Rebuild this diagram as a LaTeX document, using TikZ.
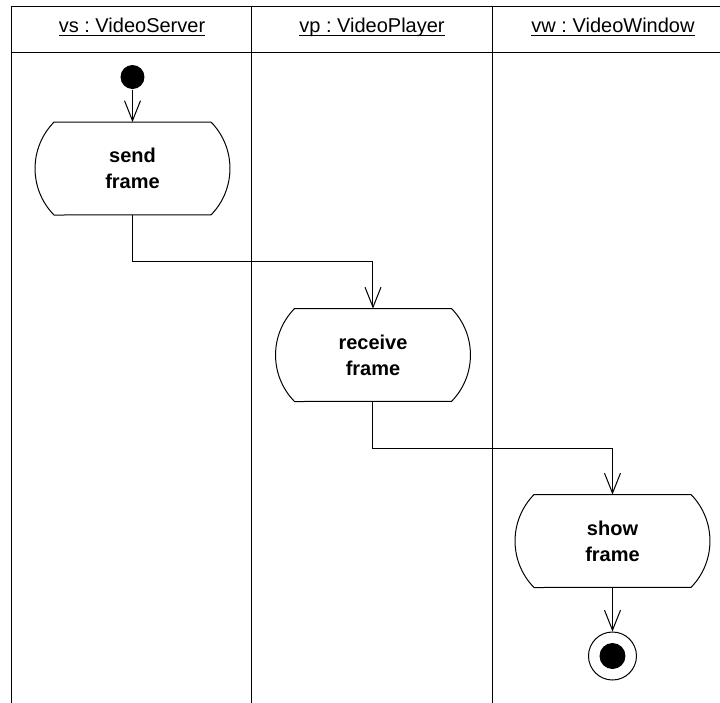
\documentclass[tikz,border=0pt]{standalone}
\usepackage{fontspec}
\setmainfont{Liberation Sans}
\usetikzlibrary{arrows.meta}
\frenchspacing

% underline at a fixed depth, whatever the descenders
\newcommand{\uln}[1]{\underline{\smash{#1}}\vphantom{p}}
% outline of an activity state: flat top and bottom, bulging sides
\newcommand{\actshape}[1]{%
  \draw ([xshift=9pt]#1.north west) -- ([xshift=-9pt]#1.north east)
    arc[start angle=44.4, end angle=-44.4, radius=33.2pt]
    -- ([xshift=9pt]#1.south west)
    arc[start angle=224.4, end angle=135.6, radius=33.2pt] -- cycle;}

\begin{document}
\begin{tikzpicture}[x=0.5pt,y=-0.5pt,line width=0.5pt,
  act/.style={minimum width=96.5pt, minimum height=46.5pt, outer sep=0pt,
    align=center, font={\bfseries\fontsize{10}{13}\selectfont}},
  flow/.style={-{Straight Barb[length=10pt,width=8pt]}},
  lane/.style={font=\fontsize{10}{12}\selectfont}]
\useasboundingbox (0,0) rectangle (720,703);
% swimlanes
\draw (12,6) -- (720,6);
\draw (12,52) -- (720,52);
\draw (12,6) -- (12,703);
\draw (252,6) -- (252,703);
\draw (493,6) -- (493,703);
\node[lane] (hvs) at (132,29) {\uln{vs : VideoServer}};
\node[lane] (hvp) at (372,29) {\uln{vp : VideoPlayer}};
\node[lane] (hvw) at (613,29) {\uln{vw : VideoWindow}};
% states
\node[circle,fill,minimum size=12pt,inner sep=0pt] (start) at (132.5,77) {};
\node[act] (send) at (132.5,168.5) {send\\frame};
\node[act] (recv) at (373,355) {receive\\frame};
\node[act] (show) at (612.5,541) {show\\frame};
\node[circle,draw,minimum size=24pt,inner sep=0pt] (final) at (612.5,656) {};
\fill (final.center) circle[radius=6.5pt];
\actshape{send}
\actshape{recv}
\actshape{show}
% transitions
\draw[flow] (start) -- (send.north);
\draw[flow] (send.south) -- ++(0,46) -| (recv.north);
\draw[flow] (recv.south) -- ++(0,47) -| (show.north);
\draw[flow] (show.south) -- (final.north);
\end{tikzpicture}
\end{document}
